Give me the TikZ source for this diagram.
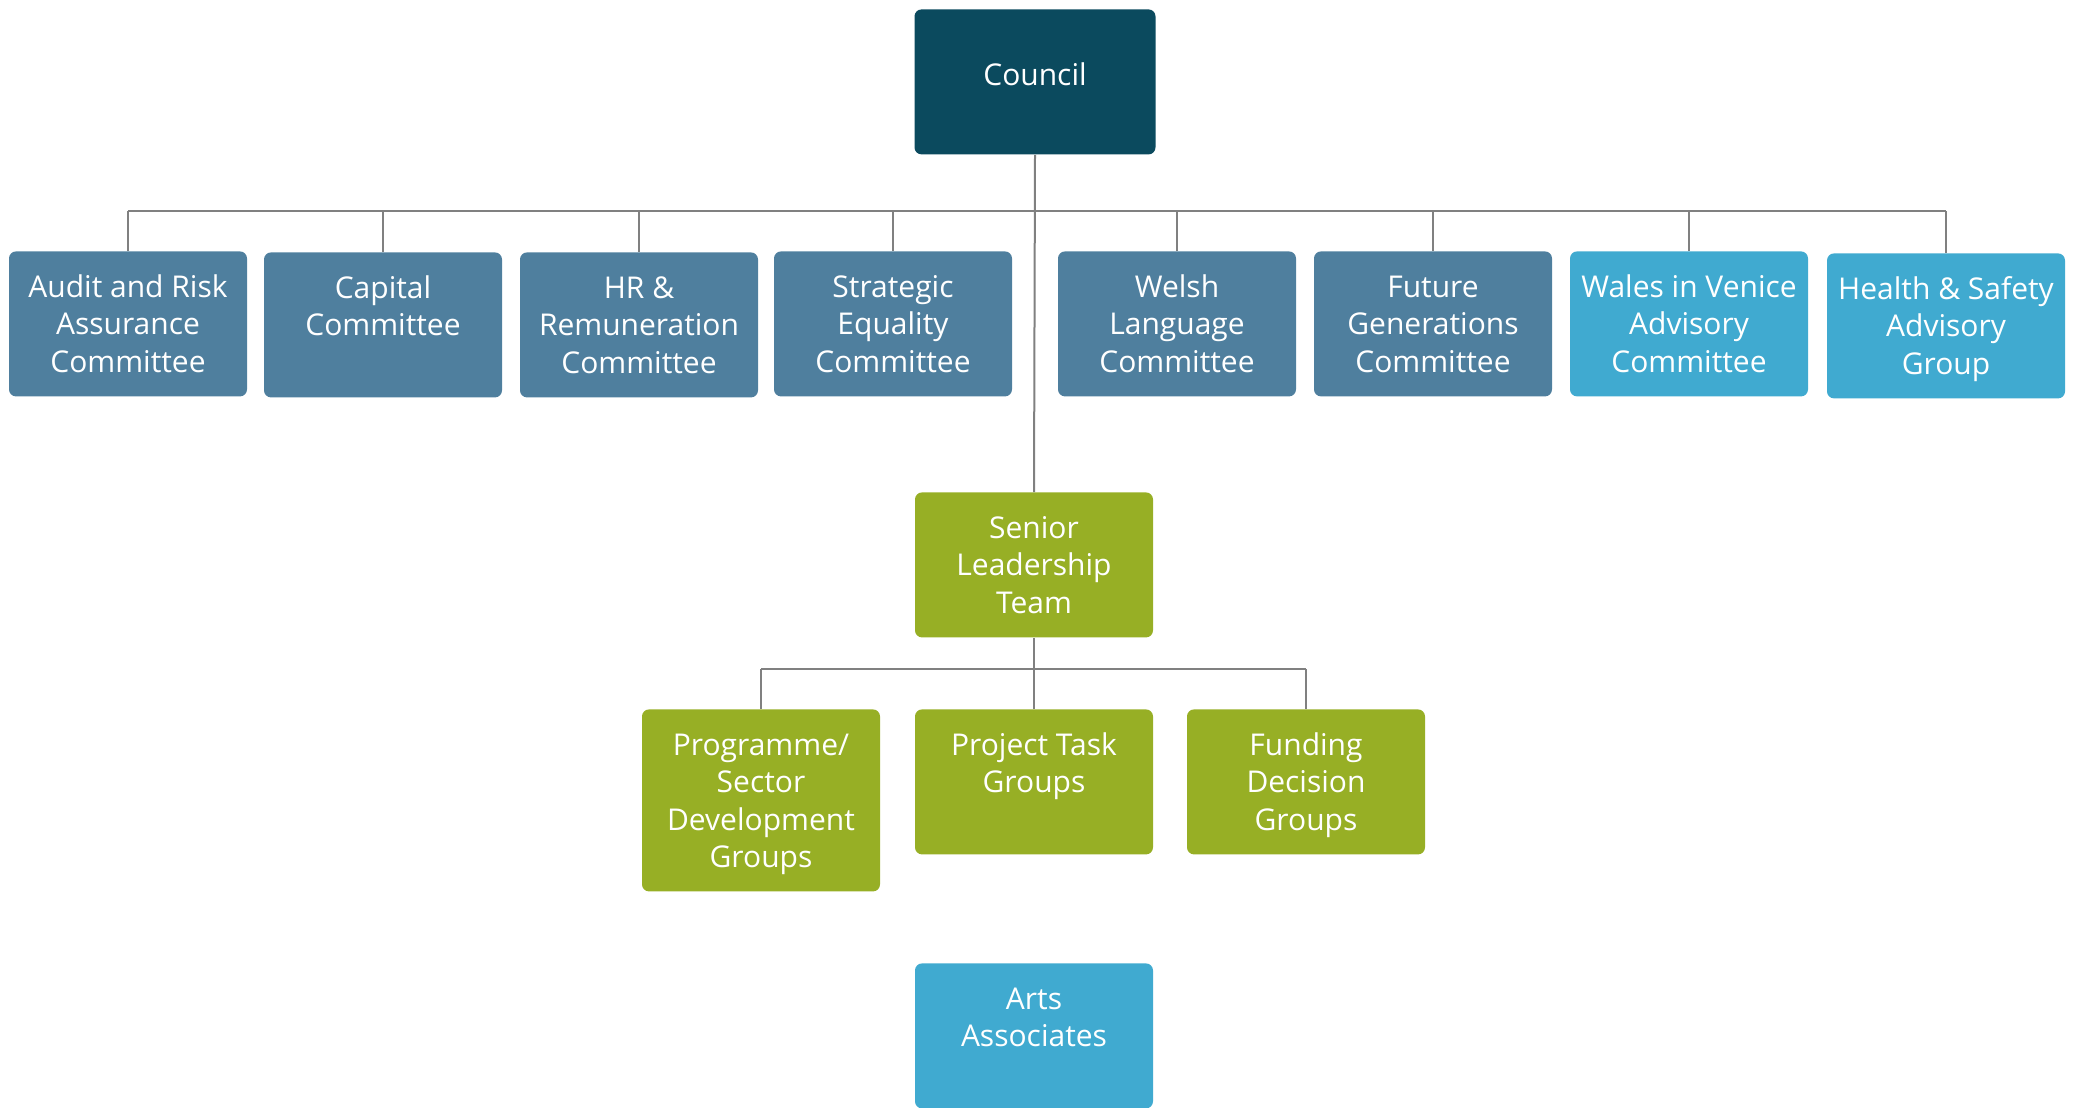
\documentclass[tikz,border=0pt]{standalone}
\usepackage{fontspec}
\setmainfont{Open Sans}
\definecolor{council}{RGB}{11,74,94}
\definecolor{committee}{RGB}{79,127,158}
\definecolor{advisory}{RGB}{64,170,208}
\definecolor{executive}{RGB}{151,175,37}
\definecolor{link}{RGB}{128,128,128}
\newcommand{\unitfont}{\fontsize{15pt}{18.75pt}\selectfont}
\tikzset{unit height/.store in=\unitheight, unit height=61.7pt}

\begin{document}
\begin{tikzpicture}[x=0.5pt, y=-0.5pt]
            \useasboundingbox (0, 0) rectangle (2078, 1108);
            \tikzstyle{unit} = [fill=committee, text=white, rounded corners=3.5pt,
                inner xsep=3pt, inner ysep=5.4pt, anchor=north, font=\unitfont,
                execute at begin node={\begin{minipage}[c][\unitheight][t]{113pt}\centering\rule{0pt}{17.6pt}},
                execute at end node={\end{minipage}}]
            \tikzstyle{advice} = [unit, fill=advisory]
            \tikzstyle{staff} = [unit, fill=executive]
            \tikzstyle{tall} = [unit height=80.2pt]
            \tikzstyle{head} = [fill=council, text=white, rounded corners=3.5pt, anchor=north,
                minimum width=120.5pt, minimum height=72.5pt, text depth=8pt, font=\unitfont]
            \tikzstyle{link} = [draw=link, line width=1pt]

            \node[head] (council) at (1035, 9) {Council};

            \node[unit] (audit) at (128, 251) {Audit and Risk\\Assurance\\Committee};
            \node[unit] (capital) at (383, 252) {Capital\\Committee};
            \node[unit] (hr) at (639, 252) {HR \&\\Remuneration\\Committee};
            \node[unit] (strategic) at (893, 251) {Strategic\\Equality\\Committee};
            \node[unit] (welsh) at (1177, 251) {Welsh\\Language\\Committee};
            \node[unit] (future) at (1433, 251) {Future\\Generations\\Committee};
            \node[advice] (venice) at (1689, 251) {Wales in Venice\\Advisory\\Committee};
            \node[advice] (health) at (1946, 253) {Health \& Safety\\Advisory\\Group};

            \node[staff] (slt) at (1034, 492) {Senior\\Leadership\\Team};
            \node[staff, tall] (programme) at (761, 709) {Programme/\\Sector\\Development\\Groups};
            \node[staff] (project) at (1034, 709) {Project Task\\Groups};
            \node[staff] (funding) at (1306, 709) {Funding\\Decision\\Groups};

            \node[advice] (arts) at (1034, 963) {Arts\\Associates};

            % council to committees
            \coordinate (topbar) at (1035, 211);
            \draw[link] (council.south) -- (slt.north);
            \draw[link] (audit.north |- topbar) -- (health.north |- topbar);
            \foreach \n in {audit, capital, hr, strategic, welsh, future, venice, health}
                \draw[link] (\n.north) -- (\n.north |- topbar);

            % leadership to groups
            \coordinate (lowbar) at (1034, 669);
            \draw[link] (programme.north |- lowbar) -- (funding.north |- lowbar);
            \draw[link] (slt.south) -- (project.north);
            \draw[link] (programme.north) -- (programme.north |- lowbar);
            \draw[link] (funding.north) -- (funding.north |- lowbar);
        \end{tikzpicture}
\end{document}
